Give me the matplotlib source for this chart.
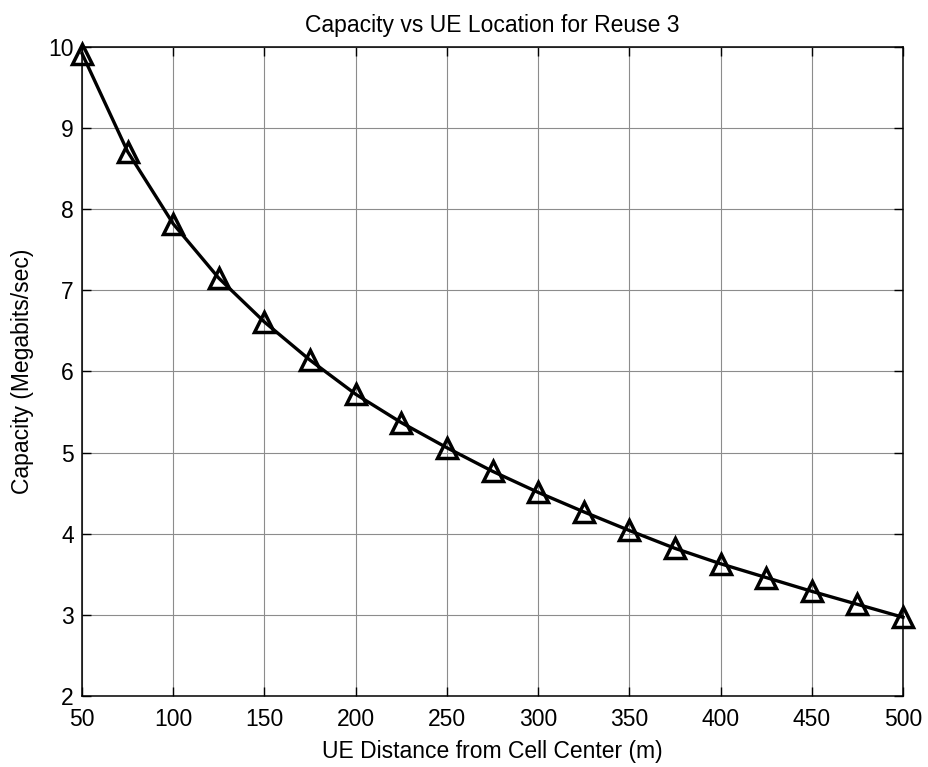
import matplotlib
matplotlib.use("Agg")
import matplotlib.pyplot as plt

plt.rcParams['font.family'] = ['Liberation Sans', 'DejaVu Sans']

# UE distance (m) and capacity (Mbit/s)
distance = [50, 75, 100, 125, 150, 175, 200, 225, 250, 275,
            300, 325, 350, 375, 400, 425, 450, 475, 500]
capacity = [9.92, 8.71, 7.82, 7.15, 6.61, 6.14, 5.72, 5.37, 5.06, 4.77,
            4.51, 4.27, 4.04, 3.82, 3.63, 3.46, 3.29, 3.13, 2.97]

x_ticks = [50, 100, 150, 200, 250, 300, 350, 400, 450, 500]
y_ticks = [2, 3, 4, 5, 6, 7, 8, 9, 10]

fig = plt.figure(figsize=(9.29, 7.67), dpi=100)
ax = fig.add_axes([0.0883, 0.0926, 0.9837 - 0.0883 - 0.0117, 0.9387 - 0.0926])

ax.plot(distance, capacity, color='black', linewidth=2.4,
        marker='^', markersize=15, markerfacecolor='none',
        markeredgecolor='black', markeredgewidth=2.5, clip_on=False, zorder=3)

ax.set_xlim(50, 500)
ax.set_ylim(2, 10)
ax.set_xticks(x_ticks)
ax.set_yticks(y_ticks)
ax.grid(True, color='0.55', linewidth=0.8)
ax.set_axisbelow(True)

ax.tick_params(direction='in', length=6.5, width=1, top=True, right=True,
               labelsize=16.5)
ax.tick_params(axis='x', pad=9)
ax.tick_params(axis='y', pad=6)
for s in ax.spines.values():
    s.set_linewidth(1.1)
    s.set_color('black')

ax.set_title('Capacity vs UE Location for Reuse 3', fontsize=16.5, pad=11)
ax.set_xlabel('UE Distance from Cell Center (m)', fontsize=16.5, labelpad=6)
ax.set_ylabel('Capacity (Megabits/sec)', fontsize=16.5, labelpad=10)

fig.savefig('out.png', dpi=100)
